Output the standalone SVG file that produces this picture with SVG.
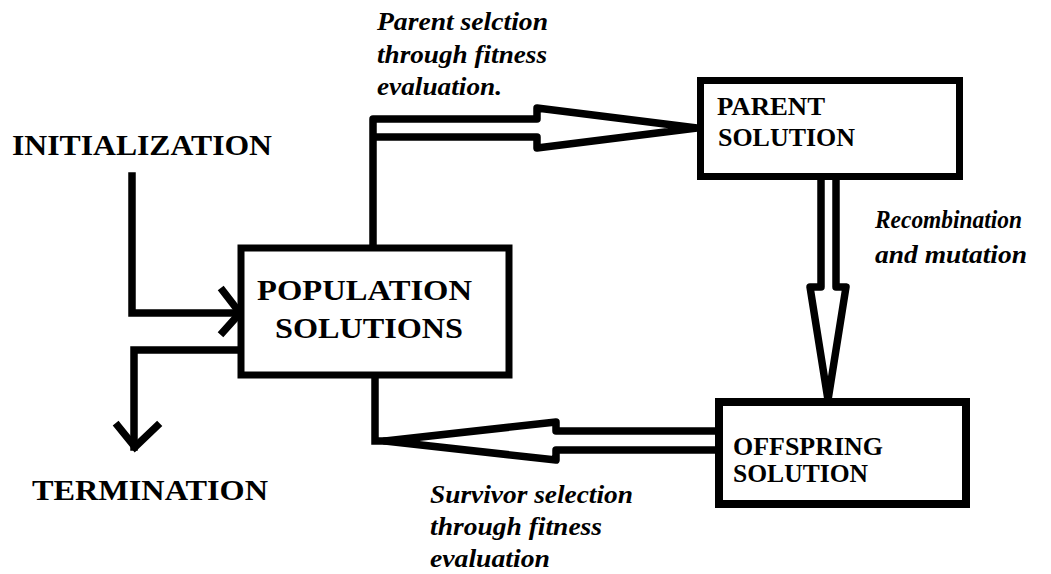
<svg xmlns="http://www.w3.org/2000/svg" width="1051" height="574" viewBox="0 0 1051 574">
<style>
.box{fill:#fff;stroke:#000;stroke-width:7}
.ln{fill:none;stroke:#000;stroke-width:7.5;stroke-linejoin:miter;stroke-linecap:square}
.hol{fill:#fff;stroke:#000;stroke-width:7.5;stroke-linejoin:round}
.t{font-family:"Liberation Serif","Times New Roman",serif;font-weight:bold;font-size:29px;fill:#000}
.tb{font-family:"Liberation Serif","Times New Roman",serif;font-weight:bold;font-size:26px;fill:#000}
.it{font-family:"Liberation Serif","Times New Roman",serif;font-weight:bold;font-style:italic;font-size:24.5px;fill:#000}
</style>
<rect width="1051" height="574" fill="#fff"/>
<g id="connectors">
  <path class="hol" d="M373,248 V119 H537 V108 L697,128 L537,148 V137 H373"/>
  <path class="hol" d="M821,180 V287 H810 L828,400 L846,287 H836 V180"/>
  <path class="ln" d="M375,378 V441 H388"/>
  <path class="hol" d="M719,431 H556 V422 L385,441 L556,460 V450 H719"/>
  <path class="ln" d="M132,176 V313 H240"/>
  <path class="ln" d="M223,291 L240,313 L223,332"/>
  <path class="ln" d="M242,350 H134 V447"/>
  <path class="ln" d="M118,426 L135,447 L157,426"/>
</g>
<g id="population">
  <rect class="box" x="241" y="248" width="268" height="127"/>
  <text class="t" x="257" y="300" textLength="215" lengthAdjust="spacingAndGlyphs">POPULATION</text>
  <text class="t" x="275" y="338" textLength="188" lengthAdjust="spacingAndGlyphs">SOLUTIONS</text>
</g>
<g id="parent">
  <rect class="box" x="700.5" y="80.5" width="259" height="96"/>
  <text class="tb" x="717" y="115" textLength="108" lengthAdjust="spacingAndGlyphs">PARENT</text>
  <text class="tb" x="718" y="146" textLength="137" lengthAdjust="spacingAndGlyphs">SOLUTION</text>
</g>
<g id="offspring">
  <rect class="box" x="719" y="402" width="247" height="102" style="stroke-width:8"/>
  <text class="tb" x="733" y="455" textLength="150" lengthAdjust="spacingAndGlyphs">OFFSPRING</text>
  <text class="tb" x="733" y="482" textLength="135" lengthAdjust="spacingAndGlyphs">SOLUTION</text>
</g>
<g id="initialization">
  <text class="t" x="12" y="155" textLength="260" lengthAdjust="spacingAndGlyphs">INITIALIZATION</text>
</g>
<g id="termination">
  <text class="t" x="32" y="500" textLength="236" lengthAdjust="spacingAndGlyphs">TERMINATION</text>
</g>
<g id="label-parent-selection">
  <text class="it" x="377" y="30" textLength="171" lengthAdjust="spacingAndGlyphs">Parent selction</text>
  <text class="it" x="377" y="63" textLength="170" lengthAdjust="spacingAndGlyphs">through fitness</text>
  <text class="it" x="377" y="95" textLength="125" lengthAdjust="spacingAndGlyphs">evaluation.</text>
</g>
<g id="label-recombination">
  <text class="it" x="875" y="228" textLength="147" lengthAdjust="spacingAndGlyphs">Recombination</text>
  <text class="it" x="875" y="263" textLength="152" lengthAdjust="spacingAndGlyphs">and mutation</text>
</g>
<g id="label-survivor">
  <text class="it" x="430" y="503" textLength="203" lengthAdjust="spacingAndGlyphs">Survivor selection</text>
  <text class="it" x="430" y="535" textLength="172" lengthAdjust="spacingAndGlyphs">through fitness</text>
  <text class="it" x="430" y="567" textLength="120" lengthAdjust="spacingAndGlyphs">evaluation</text>
</g>
</svg>
